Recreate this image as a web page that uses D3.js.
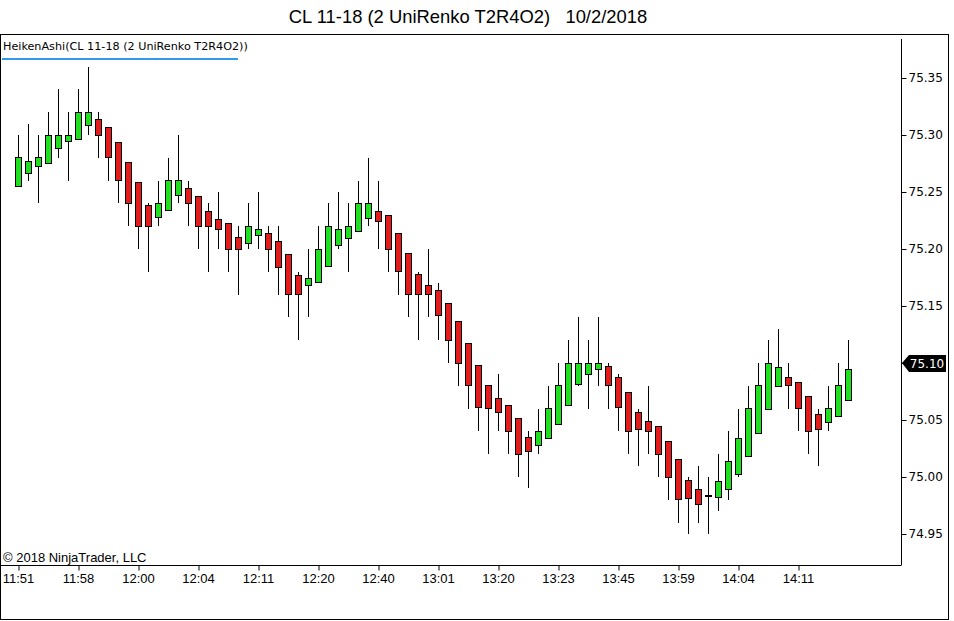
<!DOCTYPE html>
<html>
<head>
<meta charset="utf-8">
<script src="https://cdn.jsdelivr.net/npm/d3@7"></script>
<style>
  body { margin: 0; background: #fff; }
  svg { display: block; }
</style>
</head>
<body>
<script>
// Heiken Ashi bars
var opens  = [75.255,75.266,75.272,75.275,75.288,75.294,75.296,75.308,75.314,75.307,
              75.293,75.276,75.258,75.238,75.228,75.234,75.247,75.253,75.246,75.233,
              75.226,75.222,75.210,75.205,75.212,75.214,75.207,75.195,75.177,75.168,
              75.171,75.185,75.203,75.209,75.215,75.227,75.233,75.229,75.214,75.196,
              75.178,75.168,75.164,75.152,75.136,75.117,75.098,75.080,75.069,75.063,
              75.051,75.035,75.028,75.034,75.046,75.063,75.081,75.090,75.094,75.097,
              75.087,75.074,75.057,75.049,75.044,75.031,75.015,74.997,74.989,74.984,
              74.982,74.989,75.002,75.018,75.038,75.059,75.079,75.087,75.083,75.071,
              75.055,75.048,75.053,75.067];
var highs  = [75.300,75.310,75.300,75.320,75.340,75.320,75.340,75.360,75.320,75.307,
              75.293,75.276,75.258,75.240,75.260,75.280,75.300,75.260,75.246,75.240,
              75.250,75.222,75.220,75.240,75.250,75.220,75.220,75.195,75.180,75.200,
              75.220,75.240,75.250,75.240,75.260,75.280,75.260,75.229,75.214,75.196,
              75.180,75.200,75.170,75.152,75.136,75.117,75.098,75.080,75.090,75.063,
              75.051,75.040,75.060,75.080,75.100,75.120,75.140,75.120,75.140,75.100,
              75.090,75.074,75.060,75.080,75.044,75.031,75.015,75.000,75.010,75.000,
              75.020,75.040,75.060,75.080,75.100,75.120,75.130,75.100,75.083,75.071,
              75.060,75.080,75.100,75.120];
var lows   = [75.255,75.260,75.240,75.275,75.280,75.260,75.296,75.300,75.280,75.260,
              75.240,75.220,75.200,75.180,75.220,75.234,75.240,75.220,75.200,75.180,
              75.200,75.180,75.160,75.200,75.200,75.180,75.160,75.140,75.120,75.140,
              75.171,75.185,75.200,75.180,75.215,75.220,75.200,75.180,75.160,75.140,
              75.120,75.140,75.120,75.100,75.080,75.060,75.040,75.020,75.040,75.020,
              75.000,74.990,75.020,75.034,75.046,75.063,75.080,75.060,75.080,75.060,
              75.040,75.020,75.010,75.020,75.000,74.980,74.960,74.950,74.960,74.950,
              74.970,74.980,75.000,75.018,75.038,75.059,75.079,75.060,75.040,75.020,
              75.010,75.040,75.053,75.067];
var closes = [75.280,75.277,75.280,75.300,75.300,75.300,75.320,75.320,75.300,75.280,
              75.260,75.240,75.220,75.220,75.240,75.260,75.260,75.240,75.220,75.220,
              75.217,75.200,75.200,75.220,75.217,75.200,75.184,75.160,75.160,75.174,
              75.200,75.220,75.217,75.220,75.240,75.240,75.224,75.200,75.180,75.160,
              75.160,75.160,75.142,75.120,75.100,75.080,75.061,75.060,75.057,75.040,
              75.020,75.022,75.040,75.060,75.080,75.100,75.100,75.100,75.100,75.080,
              75.061,75.040,75.042,75.040,75.020,75.000,74.980,74.981,74.976,74.983,
              74.996,75.014,75.034,75.060,75.080,75.100,75.096,75.080,75.060,75.040,
              75.042,75.060,75.080,75.094];

var priceTicks = [74.95, 75.00, 75.05, 75.10, 75.15, 75.20, 75.25, 75.30, 75.35];
var timeLabels = ["11:51","11:58","12:00","12:04","12:11","12:20","12:40",
                  "13:01","13:20","13:23","13:45","13:59","14:04","14:11"];
var labelEvery = 6;
var lastPrice = 75.10;

var W = 954, H = 621;
var upColor = "#1fe01f", downColor = "#e31b1b";

var svg = d3.select("body").append("svg")
    .attr("width", W)
    .attr("height", H);

var x = d3.scaleLinear().domain([0, opens.length - 1]).range([18, 848]);
var y = d3.scaleLinear().domain([74.95, 75.35]).range([534, 78]);

// title
svg.append("text")
    .attr("x", 468).attr("y", 23)
    .attr("text-anchor", "middle")
    .style("font-family", "'Liberation Sans', Arial, sans-serif")
    .style("font-size", "18.4px")
    .style("white-space", "pre")
    .text("CL 11-18 (2 UniRenko T2R4O2)   10/2/2018");

// outer frame
svg.append("rect")
    .attr("x", 0.5).attr("y", 34.5)
    .attr("width", 948).attr("height", 585)
    .attr("fill", "none").attr("stroke", "#000");

// bars
var bars = svg.append("g").attr("shape-rendering", "crispEdges");
var idx = d3.range(opens.length);

bars.selectAll("line.wick")
    .data(idx)
    .enter()
    .append("line")
    .attr("class", "wick")
    .attr("x1", function(i){ return Math.round(x(i)) + 0.5 })
    .attr("x2", function(i){ return Math.round(x(i)) + 0.5 })
    .attr("y1", function(i){ return y(highs[i]) })
    .attr("y2", function(i){ return y(lows[i]) })
    .attr("stroke", "#000");

bars.selectAll("rect.body")
    .data(idx)
    .enter()
    .append("rect")
    .attr("class", "body")
    .attr("x", function(i){ return Math.round(x(i)) - 3 + 0.5 })
    .attr("width", 6)
    .attr("y", function(i){ return y(Math.max(opens[i], closes[i])) })
    .attr("height", function(i){ return Math.max(1.5, Math.abs(y(opens[i]) - y(closes[i]))) })
    .attr("fill", function(i){ return closes[i] >= opens[i] ? upColor : downColor })
    .attr("stroke", "#000");

// right price axis
var yAxis = d3.axisRight(y)
    .tickValues(priceTicks)
    .tickSize(5)
    .tickPadding(2)
    .tickFormat(d3.format(".2f"));

var ya = svg.append("g")
    .attr("transform", "translate(901.5,0)")
    .call(yAxis);
ya.select(".domain").remove();
ya.selectAll("text")
    .style("font-family", "'DejaVu Sans', Tahoma, sans-serif")
    .style("font-size", "12px")
    .attr("fill", "#000");

svg.append("line")
    .attr("x1", 901.5).attr("x2", 901.5)
    .attr("y1", 39).attr("y2", 565)
    .attr("stroke", "#000");

// bottom time axis
var xAxis = d3.axisBottom(x)
    .tickValues(idx.filter(function(i){ return i % labelEvery === 0 }))
    .tickSize(5)
    .tickPadding(3)
    .tickFormat(function(i){ return timeLabels[i / labelEvery] });

var xa = svg.append("g")
    .attr("transform", "translate(0,565.5)")
    .call(xAxis);
xa.select(".domain").remove();
xa.selectAll("line").attr("transform", "translate(0.5,0)");
xa.selectAll("text")
    .style("font-family", "'Liberation Sans', Arial, sans-serif")
    .style("font-size", "13px")
    .attr("fill", "#000");

svg.append("line")
    .attr("x1", 0).attr("x2", 901.5)
    .attr("y1", 565.5).attr("y2", 565.5)
    .attr("stroke", "#000");

// last price marker
var py = Math.round(y(lastPrice));
svg.append("path")
    .attr("d", "M902," + py + " L909," + (py - 8) + " L946," + (py - 8) + " L946," + (py + 9) + " L909," + (py + 9) + " Z")
    .attr("fill", "#000");
svg.append("text")
    .attr("x", 927).attr("y", py + 5)
    .attr("text-anchor", "middle")
    .attr("fill", "#fff")
    .style("font-family", "'DejaVu Sans', Tahoma, sans-serif")
    .style("font-size", "12px")
    .text(lastPrice.toFixed(2));

// indicator label
svg.append("text")
    .attr("x", 3).attr("y", 50)
    .style("font-family", "'DejaVu Sans', Tahoma, sans-serif")
    .style("font-size", "11.2px")
    .text("HeikenAshi(CL 11-18 (2 UniRenko T2R4O2))");
svg.append("line")
    .attr("x1", 2).attr("x2", 238)
    .attr("y1", 59).attr("y2", 59)
    .attr("stroke", "#3399ee")
    .attr("stroke-width", 2);

// copyright
svg.append("text")
    .attr("x", 3).attr("y", 562)
    .style("font-family", "'Liberation Sans', Arial, sans-serif")
    .style("font-size", "13px")
    .text("\u00a9 2018 NinjaTrader, LLC");
</script>
</body>
</html>
